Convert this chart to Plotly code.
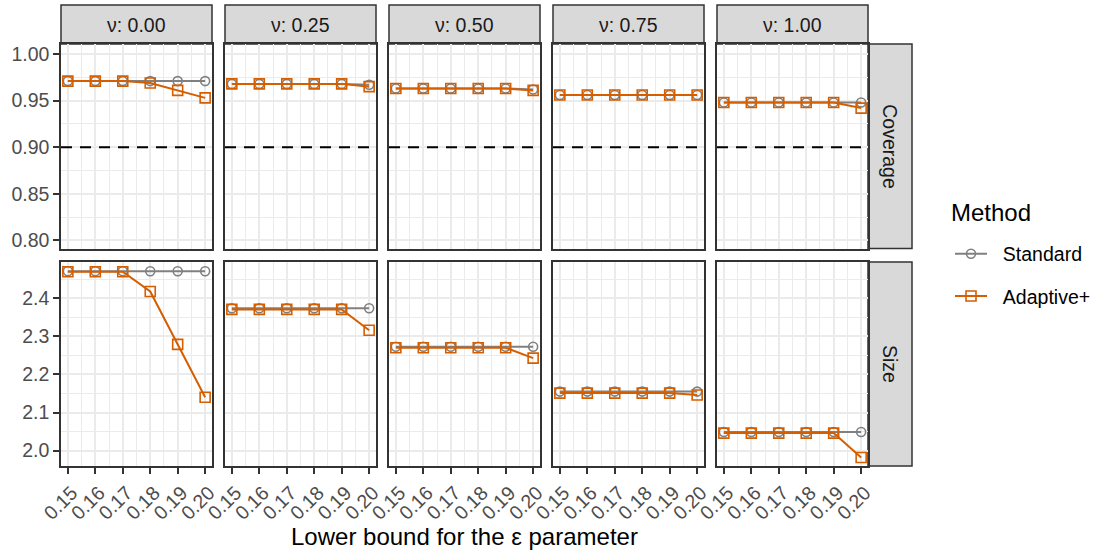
import plotly.graph_objects as go

W, H = 1098, 553

# ---------------- data ----------------
eps = [0.15, 0.16, 0.17, 0.18, 0.19, 0.20]
eps_ticks = ["0.15", "0.16", "0.17", "0.18", "0.19", "0.20"]
nu_labels = ["ν: 0.00", "ν: 0.25", "ν: 0.50", "ν: 0.75", "ν: 1.00"]
metric_labels = ["Coverage", "Size"]
methods = ["Standard", "Adaptive+"]
legend_title = "Method"

cov_std_nu000 = [0.971, 0.971, 0.971, 0.971, 0.971, 0.971]
cov_ada_nu000 = [0.971, 0.971, 0.971, 0.969, 0.961, 0.953]
cov_std_nu025 = [0.968, 0.968, 0.968, 0.968, 0.968, 0.967]
cov_ada_nu025 = [0.968, 0.968, 0.968, 0.968, 0.968, 0.965]
cov_std_nu050 = [0.963, 0.963, 0.963, 0.963, 0.963, 0.962]
cov_ada_nu050 = [0.963, 0.963, 0.963, 0.963, 0.963, 0.961]
cov_std_nu075 = [0.956, 0.956, 0.956, 0.956, 0.956, 0.956]
cov_ada_nu075 = [0.956, 0.956, 0.956, 0.956, 0.956, 0.956]
cov_std_nu100 = [0.948, 0.948, 0.948, 0.948, 0.948, 0.948]
cov_ada_nu100 = [0.948, 0.948, 0.948, 0.948, 0.948, 0.942]

size_std_nu000 = [2.471, 2.471, 2.471, 2.471, 2.471, 2.471]
size_ada_nu000 = [2.470, 2.470, 2.470, 2.418, 2.279, 2.140]
size_std_nu025 = [2.374, 2.374, 2.374, 2.374, 2.374, 2.374]
size_ada_nu025 = [2.371, 2.371, 2.371, 2.371, 2.371, 2.316]
size_std_nu050 = [2.273, 2.273, 2.273, 2.273, 2.273, 2.273]
size_ada_nu050 = [2.270, 2.270, 2.270, 2.270, 2.270, 2.243]
size_std_nu075 = [2.155, 2.155, 2.155, 2.155, 2.155, 2.155]
size_ada_nu075 = [2.151, 2.151, 2.151, 2.151, 2.151, 2.146]
size_std_nu100 = [2.049, 2.049, 2.049, 2.049, 2.049, 2.049]
size_ada_nu100 = [2.046, 2.046, 2.046, 2.046, 2.046, 1.982]

target_coverage = 0.90

cov_ticks = [0.80, 0.85, 0.90, 0.95, 1.00]
cov_tick_labels = ["0.80", "0.85", "0.90", "0.95", "1.00"]
size_ticks = [2.0, 2.1, 2.2, 2.3, 2.4]
size_tick_labels = ["2.0", "2.1", "2.2", "2.3", "2.4"]

data = {
    ("Coverage", "Standard"): [cov_std_nu000, cov_std_nu025, cov_std_nu050, cov_std_nu075, cov_std_nu100],
    ("Coverage", "Adaptive+"): [cov_ada_nu000, cov_ada_nu025, cov_ada_nu050, cov_ada_nu075, cov_ada_nu100],
    ("Size", "Standard"): [size_std_nu000, size_std_nu025, size_std_nu050, size_std_nu075, size_std_nu100],
    ("Size", "Adaptive+"): [size_ada_nu000, size_ada_nu025, size_ada_nu050, size_ada_nu075, size_ada_nu100],
}

# ---------------- style ----------------
FONT = "Liberation Sans, Arial, sans-serif"
colors = {"Standard": "#808080", "Adaptive+": "#D55E00"}
symbols = {"Standard": "circle-open", "Adaptive+": "square-open"}
msize = {"Standard": 9, "Adaptive+": 10}
BORDER = "#333333"
GRID = "#EBEBEB"
NBSP = "\u00a0"

col_px = [(61, 212), (225, 376), (389, 540), (553, 704), (717, 868)]
row_px = [(44, 248.5), (262, 466)]
top_strip_px = (5, 44)
right_strip_px = (868, 912)

def fx(p):
    return p / W

def fy(p):
    return 1 - p / H

x_range = [0.1475, 0.2025]
y_ranges = {"Coverage": [0.7913, 1.0108], "Size": [1.9595, 2.4955]}
x_minor = [0.155, 0.165, 0.175, 0.185, 0.195]
y_minor = {"Coverage": [0.825, 0.875, 0.925, 0.975], "Size": [2.05, 2.15, 2.25, 2.35, 2.45]}
y_ticks = {"Coverage": (cov_ticks, cov_tick_labels), "Size": (size_ticks, size_tick_labels)}

fig = go.Figure()
layout = {}
shapes = []
annotations = []

for r, metric in enumerate(metric_labels):
    for c in range(5):
        i = r * 5 + c + 1
        xa = "x" if i == 1 else f"x{i}"
        ya = "y" if i == 1 else f"y{i}"
        for m in methods:
            fig.add_trace(go.Scatter(
                x=eps, y=data[(metric, m)][c], xaxis=xa, yaxis=ya,
                mode="lines+markers", name=NBSP * 2 + m, legendgroup=m,
                showlegend=(i == 1),
                line=dict(color=colors[m], width=2),
                marker=dict(symbol=symbols[m], size=msize[m], color=colors[m],
                            line=dict(width=1.6, color=colors[m])),
            ))
        bottom = (r == 1)
        left = (c == 0)
        layout["xaxis" if i == 1 else f"xaxis{i}"] = dict(
            domain=[fx(col_px[c][0]), fx(col_px[c][1])],
            anchor=ya, range=x_range, automargin=False,
            tickvals=eps, ticktext=eps_ticks,
            showticklabels=bottom, ticks="outside" if bottom else "",
            ticklen=6, tickwidth=1.5, tickcolor=BORDER, tickangle=-45,
            ticklabelshift=4,
            tickfont=dict(family=FONT, size=19.5, color="#4D4D4D"),
            showgrid=True, gridcolor=GRID, gridwidth=1.6,
            minor=dict(tickvals=x_minor, showgrid=True, gridcolor=GRID, gridwidth=0.8, ticks=""),
            showline=True, mirror=True, linecolor=BORDER, linewidth=1.5,
            zeroline=False, fixedrange=True,
        )
        tv, tt = y_ticks[metric]
        layout["yaxis" if i == 1 else f"yaxis{i}"] = dict(
            domain=[fy(row_px[r][1]), fy(row_px[r][0])],
            anchor=xa, range=y_ranges[metric], automargin=False,
            tickvals=tv, ticktext=tt,
            showticklabels=left, ticks="outside" if left else "",
            ticklen=6, tickwidth=1.5, tickcolor=BORDER,
            tickfont=dict(family=FONT, size=19.5, color="#4D4D4D"),
            showgrid=True, gridcolor=GRID, gridwidth=1.6,
            minor=dict(tickvals=y_minor[metric], showgrid=True, gridcolor=GRID, gridwidth=0.8, ticks=""),
            showline=True, mirror=True, linecolor=BORDER, linewidth=1.5,
            zeroline=False, fixedrange=True,
        )
        if metric == "Coverage":
            shapes.append(dict(type="line", xref=f"{xa} domain", yref=ya,
                               x0=0, x1=1, y0=target_coverage, y1=target_coverage,
                               line=dict(color="black", width=2, dash="11px,8px"), layer="above"))

# top strips
for c in range(5):
    shapes.append(dict(type="rect", xref="paper", yref="paper",
                       x0=fx(col_px[c][0]), x1=fx(col_px[c][1]),
                       y0=fy(top_strip_px[1]), y1=fy(top_strip_px[0]),
                       fillcolor="#D9D9D9", line=dict(color=BORDER, width=1.5), layer="below"))
    annotations.append(dict(text=nu_labels[c], xref="paper", yref="paper",
                            x=fx((col_px[c][0] + col_px[c][1]) / 2),
                            y=fy((top_strip_px[0] + top_strip_px[1]) / 2),
                            showarrow=False, xanchor="center", yanchor="middle",
                            font=dict(family=FONT, size=19.5, color="#1A1A1A")))
# right strips
for r in range(2):
    shapes.append(dict(type="rect", xref="paper", yref="paper",
                       x0=fx(right_strip_px[0]), x1=fx(right_strip_px[1]),
                       y0=fy(row_px[r][1]), y1=fy(row_px[r][0]),
                       fillcolor="#D9D9D9", line=dict(color=BORDER, width=1.5), layer="below"))
    annotations.append(dict(text=metric_labels[r], xref="paper", yref="paper",
                            x=fx((right_strip_px[0] + right_strip_px[1]) / 2),
                            y=fy((row_px[r][0] + row_px[r][1]) / 2),
                            showarrow=False, textangle=90, xanchor="center", yanchor="middle",
                            font=dict(family=FONT, size=19.5, color="#1A1A1A")))

# x axis title
annotations.append(dict(text="Lower bound for the ε parameter", xref="paper", yref="paper",
                        x=fx((col_px[0][0] + col_px[4][1]) / 2), y=fy(536),
                        showarrow=False, xanchor="center", yanchor="middle",
                        font=dict(family=FONT, size=24, color="black")))

# legend title
annotations.append(dict(text=legend_title, xref="paper", yref="paper",
                        x=fx(949), y=fy(212), showarrow=False,
                        xanchor="left", yanchor="middle",
                        font=dict(family=FONT, size=24, color="black")))

fig.update_layout(
    width=W, height=H, autosize=False,
    margin=dict(l=0, r=0, t=0, b=0, autoexpand=False),
    paper_bgcolor="white", plot_bgcolor="white",
    font=dict(family=FONT),
    shapes=shapes, annotations=annotations,
    legend=dict(x=fx(950), y=fy(275), xanchor="left", yanchor="middle",
                font=dict(family=FONT, size=19.5, color="black"),
                tracegroupgap=14, bgcolor="rgba(0,0,0,0)", itemwidth=32),
)
fig.update_layout(**layout)

fig.write_html("out.html", config={"displayModeBar": False},
               post_script="document.body.style.margin='0px';document.body.style.overflow='hidden';")
